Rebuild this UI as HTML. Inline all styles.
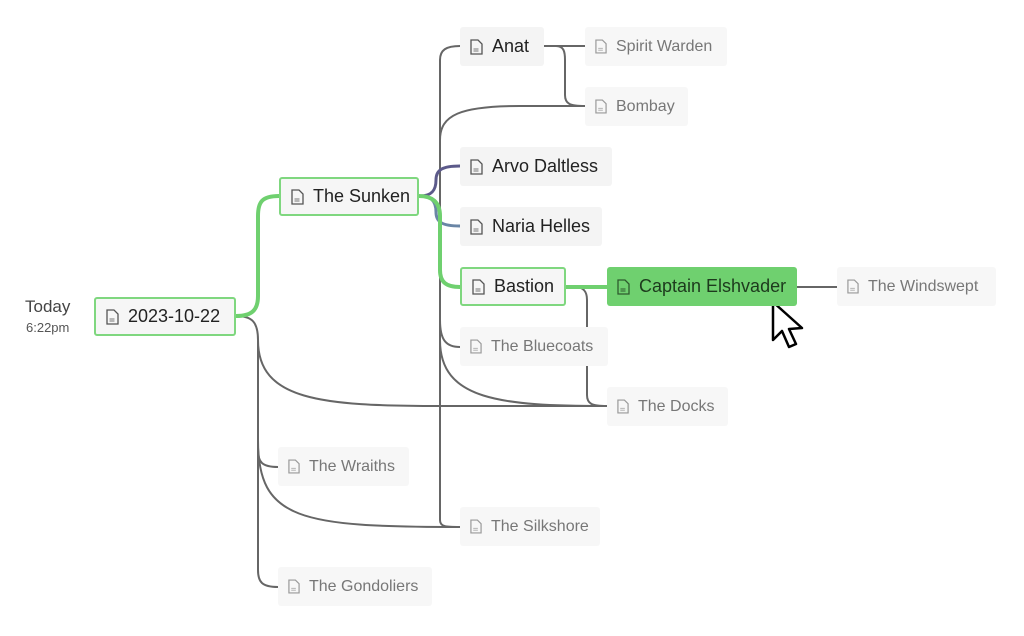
<!DOCTYPE html>
<html><head><meta charset="utf-8"><style>
body{margin:0;width:1024px;height:636px;background:#fff;position:relative;overflow:hidden;font-family:"Liberation Sans",sans-serif}
.n{position:absolute;height:39px;box-sizing:border-box;background:#f4f4f4;border-radius:3px;display:flex;align-items:center;padding-left:10px;font-size:18px;color:#222;white-space:nowrap}
.n svg{margin-right:9px;flex:none}
.f{background:#f7f7f7;color:#777;font-size:16px}
.g{border:2px solid #7fd77f;background:#f6f6f6}
.s{background:#6fd06f;color:#1d3a1d}
.lbl{position:absolute;color:#444}
</style></head><body>
<svg width="1024" height="636" style="position:absolute;left:0;top:0" fill="none">
<g stroke="#666" stroke-width="2">
<path d="M236 316 C252 316 258 322 258 340 L258 450 C258 462 262 467 278 467"/>
<path d="M258 450 L258 570 C258 582 262 587 278 587"/>
<path d="M258 340 C258 400 320 406 440 406 L607 406"/>
<path d="M258 440 C258 520 300 527 460 527"/>
<path d="M440 60 C440 50 446 46 460 46"/>
<path d="M440 196 L440 60"/>
<path d="M440 196 L440 520 C440 527 446 527 460 527"/>
<path d="M440 320 C440 340 446 347 460 347"/>
<path d="M440 140 C440 115 460 106 520 106 L585 106"/>
<path d="M440 340 C440 400 500 406 607 406"/>
<path d="M544 46 L585 46"/>
<path d="M556 46 C564 46 565 52 565 60 L565 95 C565 104 570 106 585 106"/>
<path d="M575 287 C584 287 587 292 587 300 L587 395 C587 404 592 406 607 406"/>
<path d="M797 287 L837 287"/>
</g>
<path d="M420 196 C432 196 436 190 436 180 C436 170 442 166 460 166" stroke="#5c5a8a" stroke-width="3"/>
<path d="M420 196 C430 196 436 200 436 212 C436 222 442 226 460 226" stroke="#6a86a6" stroke-width="3"/>
<g stroke="#6fd06f" stroke-width="4">
<path d="M236 316 C252 316 258 310 258 296 L258 216 C258 202 262 196 279 196"/>
<path d="M419 196 C432 196 440 202 440 216 L440 270 C440 282 446 287 460 287"/>
<path d="M566 287 L607 287"/>
</g>
<polygon points="773,302 773,340 782,331 789,347 796,344 789,329 802,328" fill="#fff" stroke="#000" stroke-width="2.5" stroke-linejoin="round"/>
</svg>
<div class="lbl" style="left:25px;top:297px;font-size:17px">Today</div>
<div class="lbl" style="left:26px;top:320px;font-size:13px;color:#555">6:22pm</div>
<div class="n g" style="left:94px;top:297px;width:142px"><svg width="13" height="16" viewBox="0 0 13 16"><path d="M1 1h7l4 4v10H1z" fill="none" stroke="#555" stroke-width="1.3"/><path d="M3.5 10h5M3.5 12h5" stroke="#777"/></svg>2023-10-22</div>
<div class="n g" style="left:279px;top:177px;width:140px"><svg width="13" height="16" viewBox="0 0 13 16"><path d="M1 1h7l4 4v10H1z" fill="none" stroke="#555" stroke-width="1.3"/><path d="M3.5 10h5M3.5 12h5" stroke="#777"/></svg>The Sunken</div>
<div class="n" style="left:460px;top:27px;width:84px"><svg width="13" height="16" viewBox="0 0 13 16"><path d="M1 1h7l4 4v10H1z" fill="none" stroke="#555" stroke-width="1.3"/><path d="M3.5 10h5M3.5 12h5" stroke="#777"/></svg>Anat</div>
<div class="n f" style="left:585px;top:27px;width:142px"><svg width="12" height="15" viewBox="0 0 13 16"><path d="M1 1h7l4 4v10H1z" fill="none" stroke="#999" stroke-width="1.3"/><path d="M3.5 10h5M3.5 12h5" stroke="#aaa"/></svg>Spirit Warden</div>
<div class="n f" style="left:585px;top:87px;width:103px"><svg width="12" height="15" viewBox="0 0 13 16"><path d="M1 1h7l4 4v10H1z" fill="none" stroke="#999" stroke-width="1.3"/><path d="M3.5 10h5M3.5 12h5" stroke="#aaa"/></svg>Bombay</div>
<div class="n" style="left:460px;top:147px;width:152px"><svg width="13" height="16" viewBox="0 0 13 16"><path d="M1 1h7l4 4v10H1z" fill="none" stroke="#555" stroke-width="1.3"/><path d="M3.5 10h5M3.5 12h5" stroke="#777"/></svg>Arvo Daltless</div>
<div class="n" style="left:460px;top:207px;width:142px"><svg width="13" height="16" viewBox="0 0 13 16"><path d="M1 1h7l4 4v10H1z" fill="none" stroke="#555" stroke-width="1.3"/><path d="M3.5 10h5M3.5 12h5" stroke="#777"/></svg>Naria Helles</div>
<div class="n g" style="left:460px;top:267px;width:106px"><svg width="13" height="16" viewBox="0 0 13 16"><path d="M1 1h7l4 4v10H1z" fill="none" stroke="#555" stroke-width="1.3"/><path d="M3.5 10h5M3.5 12h5" stroke="#777"/></svg>Bastion</div>
<div class="n s" style="left:607px;top:267px;width:190px"><svg width="13" height="16" viewBox="0 0 13 16"><path d="M1 1h7l4 4v10H1z" fill="none" stroke="#2d5a2d" stroke-width="1.3"/><path d="M3.5 10h5M3.5 12h5" stroke="#2d5a2d"/></svg>Captain Elshvader</div>
<div class="n f" style="left:837px;top:267px;width:159px"><svg width="12" height="15" viewBox="0 0 13 16"><path d="M1 1h7l4 4v10H1z" fill="none" stroke="#999" stroke-width="1.3"/><path d="M3.5 10h5M3.5 12h5" stroke="#aaa"/></svg>The Windswept</div>
<div class="n f" style="left:460px;top:327px;width:148px"><svg width="12" height="15" viewBox="0 0 13 16"><path d="M1 1h7l4 4v10H1z" fill="none" stroke="#999" stroke-width="1.3"/><path d="M3.5 10h5M3.5 12h5" stroke="#aaa"/></svg>The Bluecoats</div>
<div class="n f" style="left:607px;top:387px;width:121px"><svg width="12" height="15" viewBox="0 0 13 16"><path d="M1 1h7l4 4v10H1z" fill="none" stroke="#999" stroke-width="1.3"/><path d="M3.5 10h5M3.5 12h5" stroke="#aaa"/></svg>The Docks</div>
<div class="n f" style="left:278px;top:447px;width:131px"><svg width="12" height="15" viewBox="0 0 13 16"><path d="M1 1h7l4 4v10H1z" fill="none" stroke="#999" stroke-width="1.3"/><path d="M3.5 10h5M3.5 12h5" stroke="#aaa"/></svg>The Wraiths</div>
<div class="n f" style="left:460px;top:507px;width:140px"><svg width="12" height="15" viewBox="0 0 13 16"><path d="M1 1h7l4 4v10H1z" fill="none" stroke="#999" stroke-width="1.3"/><path d="M3.5 10h5M3.5 12h5" stroke="#aaa"/></svg>The Silkshore</div>
<div class="n f" style="left:278px;top:567px;width:154px"><svg width="12" height="15" viewBox="0 0 13 16"><path d="M1 1h7l4 4v10H1z" fill="none" stroke="#999" stroke-width="1.3"/><path d="M3.5 10h5M3.5 12h5" stroke="#aaa"/></svg>The Gondoliers</div>
</body></html>
